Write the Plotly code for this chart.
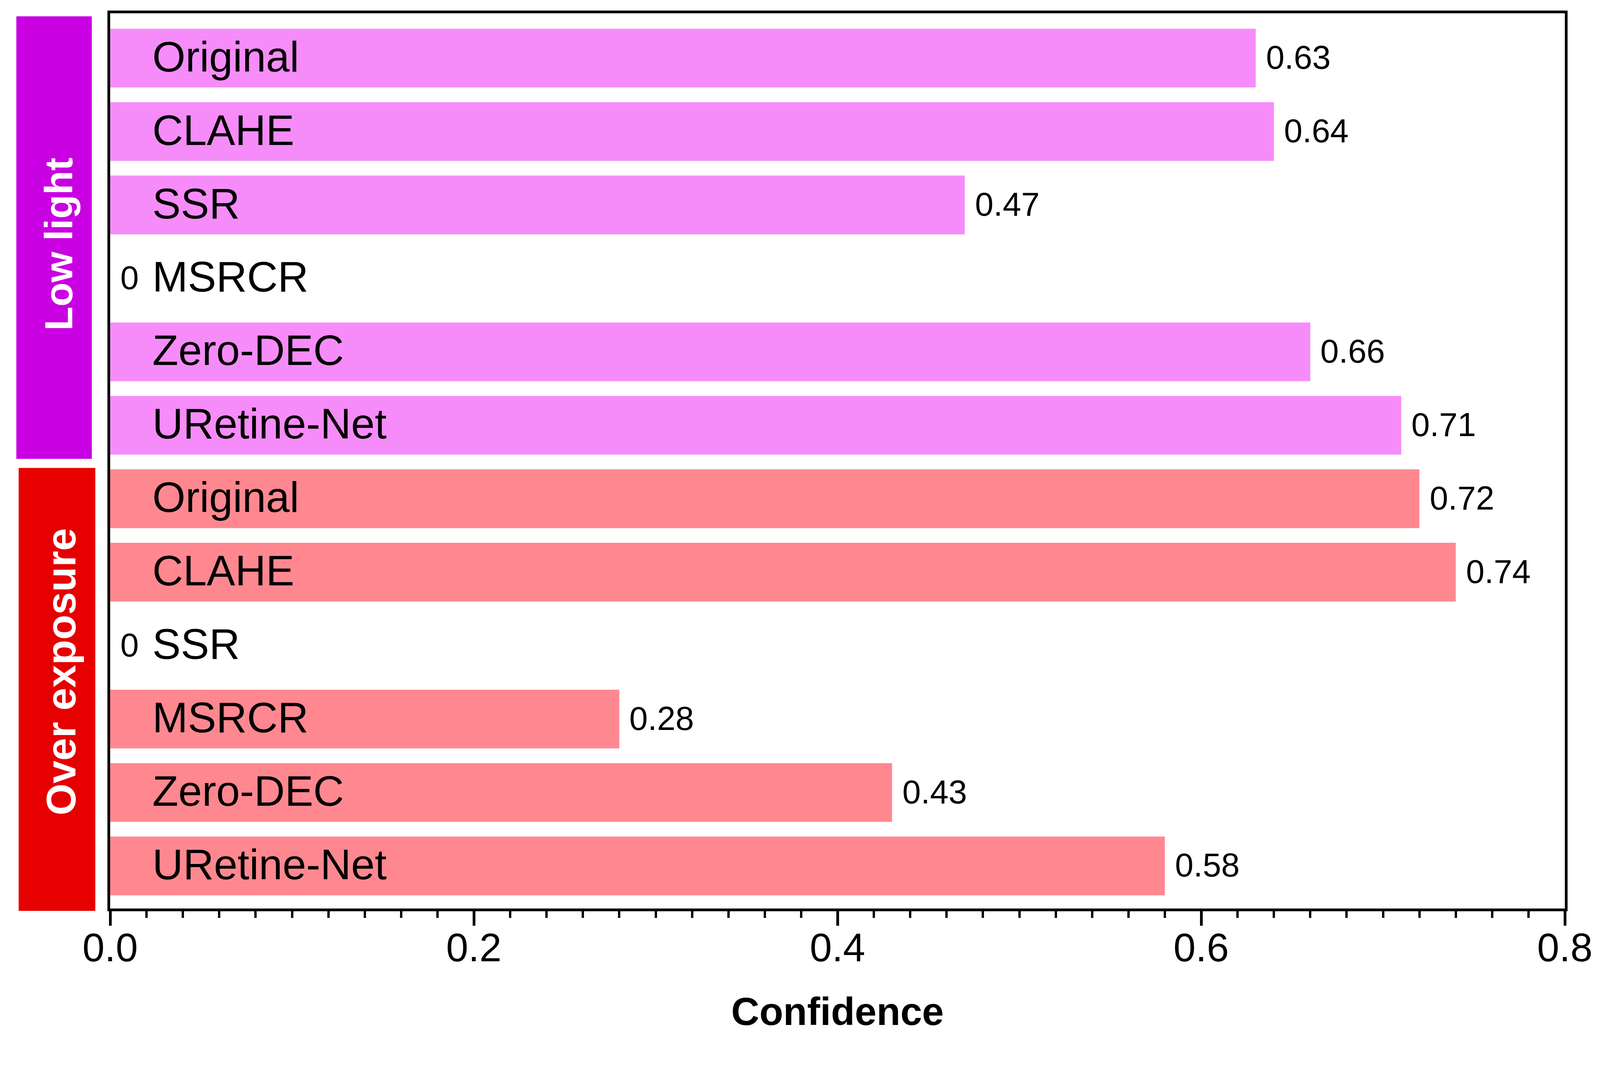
import plotly.graph_objects as go

methods = ["Original", "CLAHE", "SSR", "MSRCR", "Zero-DEC", "URetine-Net"]
groups = ["Low light", "Over exposure"]
low_light = [0.63, 0.64, 0.47, 0, 0.66, 0.71]
over_exposure = [0.72, 0.74, 0, 0.28, 0.43, 0.58]
x_ticks = [0.0, 0.2, 0.4, 0.6, 0.8]
x_ticklabels = ["0.0", "0.2", "0.4", "0.6", "0.8"]
axis_title = "Confidence"

bar_colors = ["#F68CF9", "#FF8890"]
box_colors = ["#C800E2", "#E60000"]
FONT = "Liberation Sans, Arial, sans-serif"

# the browser viewport is slightly smaller (in CSS px) than 4200x2728
S = 0.976
def px(v):
    return round(v * S)

series = [low_light, over_exposure]
n = len(methods)

fig = go.Figure()
annotations = []
for gi, vals in enumerate(series):
    ys = [gi * n + i for i in range(n)]
    fig.add_trace(go.Bar(
        x=vals, y=ys, orientation="h", width=0.8,
        marker=dict(color=bar_colors[gi], line=dict(width=0)),
        showlegend=False, hoverinfo="skip",
    ))
    for y, name, v in zip(ys, methods, vals):
        annotations.append(dict(
            x=0, y=y, xref="x", yref="y", text=name, showarrow=False,
            xanchor="left", yanchor="middle", xshift=px(109), yshift=px(4),
            font=dict(family=FONT, size=px(112), color="black"),
        ))
        annotations.append(dict(
            x=v, y=y, xref="x", yref="y",
            text=("0" if v == 0 else f"{v:.2f}"), showarrow=False,
            xanchor="left", yanchor="middle", xshift=px(25), yshift=px(2),
            font=dict(family=FONT, size=px(87), color="black"),
        ))

# group boxes (paper coords relative to plot area)
box_x = [(-0.0645, -0.0126), (-0.0629, -0.0102)]
box_y = [(0.5023, 0.9966), (-0.0026, 0.4921)]
label_y = [0.7422, 0.2642]
label_size = [px(103), px(108)]
shapes = []
for gi, g in enumerate(groups):
    (x0, x1), (y0, y1) = box_x[gi], box_y[gi]
    shapes.append(dict(type="rect", xref="paper", yref="paper",
                       x0=x0, x1=x1, y0=y0, y1=y1,
                       fillcolor=box_colors[gi], line=dict(width=0), layer="above"))
    annotations.append(dict(
        x=(x0 + x1) / 2 + 0.003, y=label_y[gi],
        xref="paper", yref="paper", text=f"<b>{g}</b>",
        showarrow=False, textangle=-90, xanchor="center", yanchor="middle",
        font=dict(family=FONT, size=label_size[gi], color="white"),
    ))

fig.update_layout(
    width=px(4200), height=px(2728),
    margin=dict(l=px(289), r=px(95), t=px(35), b=px(346)),
    plot_bgcolor="white", paper_bgcolor="white",
    bargap=0.2,
    shapes=shapes, annotations=annotations,
    font=dict(family=FONT, color="black"),
    xaxis=dict(
        range=[0, 0.8], tickvals=x_ticks, ticktext=x_ticklabels,
        showgrid=False, zeroline=False,
        showline=True, linecolor="black", linewidth=px(7), mirror=True,
        ticks="outside", ticklen=px(38), tickwidth=px(7), tickcolor="black",
        ticklabelstandoff=-px(32),
        minor=dict(dtick=0.02, tick0=0, ticks="outside", ticklen=px(17),
                   tickwidth=px(6), tickcolor="black", showgrid=False),
        tickfont=dict(family=FONT, size=px(104), color="black"),
        title=dict(text=f"<b>{axis_title}</b>", standoff=px(76),
                   font=dict(family=FONT, size=px(102), color="black")),
    ),
    yaxis=dict(
        range=[11.58, -0.61], showticklabels=False, ticks="",
        showgrid=False, zeroline=False,
        showline=True, linecolor="black", linewidth=px(7), mirror=True,
    ),
)

fig.write_html(
    "out.html",
    config={"displayModeBar": False},
    post_script="document.body.style.margin='0';document.body.style.overflow='hidden';",
)
